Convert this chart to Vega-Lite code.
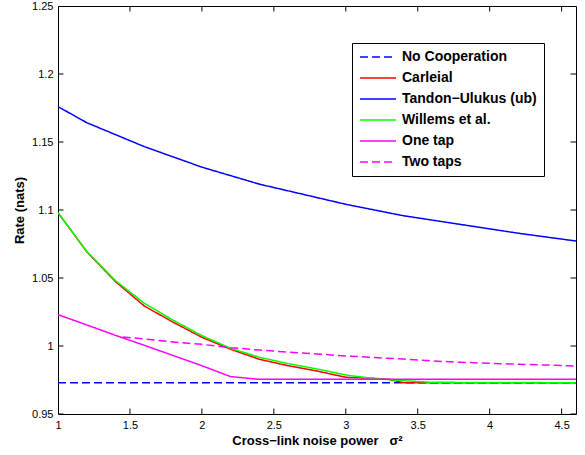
{
  "$schema": "https://vega.github.io/schema/vega-lite/v6.json",
  "width": 518,
  "height": 408,
  "autosize": {"type": "none"},
  "padding": {"left": 58, "top": 6, "right": 9, "bottom": 41},
  "background": "white",
  "config": {
    "font": "Liberation Sans",
    "view": {"stroke": "black", "strokeWidth": 1},
    "axis": {
      "domain": false,
      "grid": false,
      "ticks": true,
      "tickSize": 0,
      "tickOpacity": 0,
      "labelPadding": 5,
      "labelFont": "Liberation Sans",
      "labelFontSize": 11,
      "labelColor": "black",
      "labelFlush": false,
      "labelOverlap": false,
      "titleFont": "Liberation Sans",
      "titleFontSize": 13,
      "titleFontWeight": "bold",
      "titleColor": "black"
    },
    "legend": {
      "symbolType": "M-3,0H3",
      "symbolSize": 144,
      "symbolStrokeWidth": 1.5,
      "symbolOffset": 12,
      "labelFont": "Liberation Sans",
      "labelFontSize": 14,
      "labelFontWeight": "bold",
      "labelColor": "black",
      "labelOffset": 17,
      "labelLimit": 300,
      "rowPadding": 7,
      "padding": 7,
      "strokeColor": "black",
      "fillColor": "white"
    }
  },
  "datasets": {
    "xticks": [{"x": 1}, {"x": 1.5}, {"x": 2}, {"x": 2.5}, {"x": 3}, {"x": 3.5}, {"x": 4}, {"x": 4.5}],
    "yticks": [{"y": 0.95}, {"y": 1}, {"y": 1.05}, {"y": 1.1}, {"y": 1.15}, {"y": 1.2}, {"y": 1.25}],
    "curves": [
      {"s": "No Cooperation", "x": 1.0, "y": 0.973},
      {"s": "No Cooperation", "x": 4.6, "y": 0.973},

      {"s": "Carleial", "x": 1.0, "y": 1.098},
      {"s": "Carleial", "x": 1.2, "y": 1.0693},
      {"s": "Carleial", "x": 1.4, "y": 1.0473},
      {"s": "Carleial", "x": 1.6, "y": 1.0294},
      {"s": "Carleial", "x": 1.8, "y": 1.0175},
      {"s": "Carleial", "x": 2.0, "y": 1.0064},
      {"s": "Carleial", "x": 2.2, "y": 0.9976},
      {"s": "Carleial", "x": 2.4, "y": 0.9902},
      {"s": "Carleial", "x": 2.6, "y": 0.9855},
      {"s": "Carleial", "x": 2.8, "y": 0.9816},
      {"s": "Carleial", "x": 3.0, "y": 0.977},
      {"s": "Carleial", "x": 3.2, "y": 0.9762},
      {"s": "Carleial", "x": 3.3, "y": 0.9755},
      {"s": "Carleial", "x": 3.4, "y": 0.973},
      {"s": "Carleial", "x": 3.6, "y": 0.973},
      {"s": "Carleial", "x": 4.6, "y": 0.973},

      {"s": "Tandon−Ulukus (ub)", "x": 1.0, "y": 1.176},
      {"s": "Tandon−Ulukus (ub)", "x": 1.2, "y": 1.1642},
      {"s": "Tandon−Ulukus (ub)", "x": 1.6, "y": 1.1466},
      {"s": "Tandon−Ulukus (ub)", "x": 2.0, "y": 1.1315},
      {"s": "Tandon−Ulukus (ub)", "x": 2.4, "y": 1.119},
      {"s": "Tandon−Ulukus (ub)", "x": 3.0, "y": 1.1042},
      {"s": "Tandon−Ulukus (ub)", "x": 3.4, "y": 1.0958},
      {"s": "Tandon−Ulukus (ub)", "x": 4.2, "y": 1.0829},
      {"s": "Tandon−Ulukus (ub)", "x": 4.6, "y": 1.0772},

      {"s": "Willems et al.", "x": 1.0, "y": 1.098},
      {"s": "Willems et al.", "x": 1.2, "y": 1.0695},
      {"s": "Willems et al.", "x": 1.4, "y": 1.048},
      {"s": "Willems et al.", "x": 1.6, "y": 1.0314},
      {"s": "Willems et al.", "x": 1.8, "y": 1.019},
      {"s": "Willems et al.", "x": 2.0, "y": 1.0076},
      {"s": "Willems et al.", "x": 2.2, "y": 0.9983},
      {"s": "Willems et al.", "x": 2.4, "y": 0.9917},
      {"s": "Willems et al.", "x": 2.6, "y": 0.987},
      {"s": "Willems et al.", "x": 2.8, "y": 0.9831},
      {"s": "Willems et al.", "x": 3.0, "y": 0.9787},
      {"s": "Willems et al.", "x": 3.2, "y": 0.976},
      {"s": "Willems et al.", "x": 3.4, "y": 0.9745},
      {"s": "Willems et al.", "x": 3.6, "y": 0.9733},
      {"s": "Willems et al.", "x": 4.6, "y": 0.973},

      {"s": "One tap", "x": 1.0, "y": 1.023},
      {"s": "One tap", "x": 1.2, "y": 1.0155},
      {"s": "One tap", "x": 1.4, "y": 1.0078},
      {"s": "One tap", "x": 1.6, "y": 1.0005},
      {"s": "One tap", "x": 1.8, "y": 0.993},
      {"s": "One tap", "x": 2.0, "y": 0.9855},
      {"s": "One tap", "x": 2.2, "y": 0.9775},
      {"s": "One tap", "x": 2.4, "y": 0.9755},
      {"s": "One tap", "x": 4.6, "y": 0.9755},

      {"s": "Two taps", "x": 1.45, "y": 1.0066},
      {"s": "Two taps", "x": 1.6, "y": 1.0052},
      {"s": "Two taps", "x": 1.8, "y": 1.003},
      {"s": "Two taps", "x": 2.0, "y": 1.0012},
      {"s": "Two taps", "x": 2.2, "y": 0.9988},
      {"s": "Two taps", "x": 2.4, "y": 0.997},
      {"s": "Two taps", "x": 2.6, "y": 0.9955},
      {"s": "Two taps", "x": 2.8, "y": 0.9941},
      {"s": "Two taps", "x": 3.0, "y": 0.9927},
      {"s": "Two taps", "x": 3.2, "y": 0.9915},
      {"s": "Two taps", "x": 3.4, "y": 0.9904},
      {"s": "Two taps", "x": 3.6, "y": 0.989},
      {"s": "Two taps", "x": 3.8, "y": 0.988},
      {"s": "Two taps", "x": 4.0, "y": 0.9873},
      {"s": "Two taps", "x": 4.2, "y": 0.9866},
      {"s": "Two taps", "x": 4.4, "y": 0.986},
      {"s": "Two taps", "x": 4.6, "y": 0.9853}
    ]
  },
  "layer": [
    {
      "data": {"name": "curves"},
      "mark": {"type": "line", "strokeWidth": 1.5, "clip": true},
      "encoding": {
        "x": {
          "field": "x", "type": "quantitative",
          "scale": {"domain": [1, 4.6], "nice": false, "zero": false},
          "axis": {
            "values": [1, 1.5, 2, 2.5, 3, 3.5, 4, 4.5],
            "format": "~g",
            "title": "Cross−link noise power\u00a0\u00a0\u00a0σ²",
            "titlePadding": 4
          }
        },
        "y": {
          "field": "y", "type": "quantitative",
          "scale": {"domain": [0.95, 1.25], "nice": false, "zero": false},
          "axis": {
            "values": [0.95, 1, 1.05, 1.1, 1.15, 1.2, 1.25],
            "format": "~g",
            "title": "Rate (nats)",
            "titlePadding": 5
          }
        },
        "color": {
          "field": "s", "type": "nominal",
          "scale": {
            "domain": ["No Cooperation", "Carleial", "Tandon−Ulukus (ub)", "Willems et al.", "One tap", "Two taps"],
            "range": ["#0000ff", "#ff0000", "#0000ff", "#00ff00", "#ff00ff", "#ff00ff"]
          },
          "legend": {"title": null, "orient": "none", "legendX": 294, "legendY": 37}
        },
        "strokeDash": {
          "field": "s", "type": "nominal",
          "scale": {
            "domain": ["No Cooperation", "Carleial", "Tandon−Ulukus (ub)", "Willems et al.", "One tap", "Two taps"],
            "range": [[8, 4], [1, 0], [1, 0], [1, 0], [1, 0], [8, 4]]
          },
          "legend": {"title": null, "orient": "none", "legendX": 294, "legendY": 37}
        }
      }
    },
    {
      "data": {"name": "xticks"},
      "mark": {"type": "tick", "orient": "vertical", "size": 11, "thickness": 1, "color": "black", "opacity": 1, "clip": true},
      "encoding": {
        "x": {"field": "x", "type": "quantitative", "scale": {"domain": [1, 4.6], "nice": false, "zero": false}},
        "y": {"datum": 0.95, "type": "quantitative", "scale": {"domain": [0.95, 1.25], "nice": false, "zero": false}}
      }
    },
    {
      "data": {"name": "xticks"},
      "mark": {"type": "tick", "orient": "vertical", "size": 11, "thickness": 1, "color": "black", "opacity": 1, "clip": true},
      "encoding": {
        "x": {"field": "x", "type": "quantitative", "scale": {"domain": [1, 4.6], "nice": false, "zero": false}},
        "y": {"datum": 1.25, "type": "quantitative", "scale": {"domain": [0.95, 1.25], "nice": false, "zero": false}}
      }
    },
    {
      "data": {"name": "yticks"},
      "mark": {"type": "tick", "orient": "horizontal", "size": 11, "thickness": 1, "color": "black", "opacity": 1, "clip": true},
      "encoding": {
        "y": {"field": "y", "type": "quantitative", "scale": {"domain": [0.95, 1.25], "nice": false, "zero": false}},
        "x": {"datum": 1, "type": "quantitative", "scale": {"domain": [1, 4.6], "nice": false, "zero": false}}
      }
    },
    {
      "data": {"name": "yticks"},
      "mark": {"type": "tick", "orient": "horizontal", "size": 11, "thickness": 1, "color": "black", "opacity": 1, "clip": true},
      "encoding": {
        "y": {"field": "y", "type": "quantitative", "scale": {"domain": [0.95, 1.25], "nice": false, "zero": false}},
        "x": {"datum": 4.6, "type": "quantitative", "scale": {"domain": [1, 4.6], "nice": false, "zero": false}}
      }
    }
  ]
}
